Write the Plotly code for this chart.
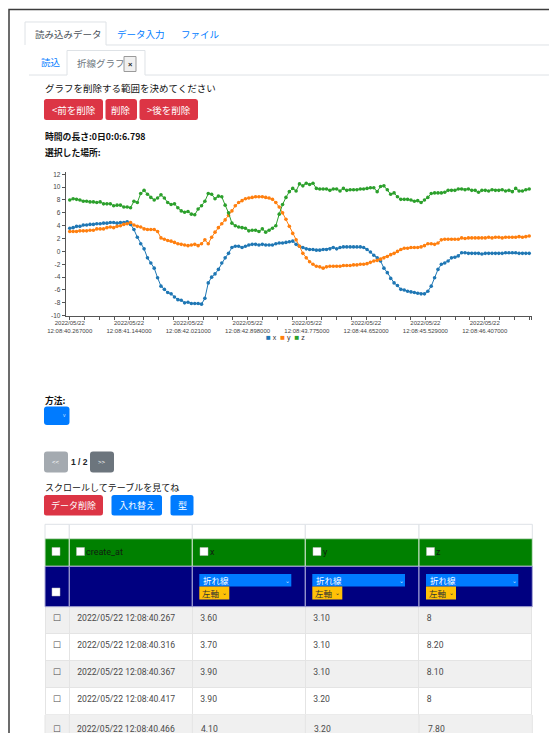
import plotly.graph_objects as go
import pandas as pd

W, H = 554, 733
JP = "Noto Sans CJK JP"
NUM = "Roboto"
AX = "Liberation Sans"

# ---------------- data ----------------
series_names = ["x", "y", "z"]
series_colors = ["#1f77b4", "#ff7f0e", "#2ca02c"]
start_time = "2022-05-22 12:08:40.267"
end_time = "2022-05-22 12:08:47.065"

x_vals = [3.6, 3.7, 3.9, 3.9, 4.1, 4.1, 4.2, 4.2, 4.3, 4.3,
          4.4, 4.4, 4.5, 4.5, 4.4, 4.5, 4.5, 4.6, 4.2, 3.4,
          2.2, 1.2, 0.4, -1.0, -1.8, -2.6, -4.1, -5.4, -5.9, -6.4,
          -6.6, -7.1, -7.5, -7.6, -8.0, -7.9, -8.1, -8.1, -8.1, -8.2,
          -7.3, -4.9, -4.0, -3.5, -2.8, -1.8, -1.0, -0.3, 0.6, 0.8,
          0.8, 0.6, 0.8, 1.0, 1.1, 1.1, 1.0, 1.1, 1.0, 1.0,
          1.0, 1.2, 1.3, 1.3, 1.4, 1.5, 1.6, 1.1, 0.8, 0.6,
          0.4, 0.3, 0.3, 0.2, 0.2, 0.3, 0.3, 0.4, 0.6, 0.4,
          0.6, 0.7, 0.7, 0.7, 0.7, 0.7, 0.7, 0.6, 0.3, -0.1,
          -0.6, -1.0, -1.5, -2.6, -3.3, -4.2, -4.9, -5.3, -5.9, -6.0,
          -6.2, -6.3, -6.4, -6.5, -6.6, -6.6, -6.2, -5.4, -4.1, -2.8,
          -2.0, -1.8, -1.5, -1.0, -0.9, -0.7, -0.2, -0.2, -0.3, -0.3,
          -0.3, -0.3, -0.4, -0.3, -0.3, -0.3, -0.3, -0.3, -0.3, -0.2,
          -0.2, -0.2, -0.2, -0.3, -0.3, -0.3, -0.3]
y_vals = [3.1, 3.1, 3.1, 3.2, 3.2, 3.2, 3.3, 3.3, 3.5, 3.5,
          3.5, 3.7, 3.8, 3.7, 3.9, 4.0, 4.2, 4.3, 4.5, 4.1,
          3.9, 3.8, 3.5, 3.4, 3.4, 3.4, 3.1, 2.1, 1.9, 1.7,
          1.6, 1.4, 1.2, 1.1, 1.0, 0.9, 1.0, 1.1, 0.9, 1.2,
          1.8, 1.2, 2.2, 3.0, 3.7, 4.3, 4.9, 5.6, 6.3, 7.1,
          7.6, 7.9, 8.2, 8.3, 8.4, 8.5, 8.5, 8.5, 8.4, 8.3,
          8.1, 7.6, 6.9, 6.0, 5.0, 3.9, 2.8, 1.8, 0.8, -0.3,
          -1.0, -1.6, -2.0, -2.3, -2.4, -2.6, -2.4, -2.3, -2.3, -2.3,
          -2.3, -2.2, -2.2, -2.2, -2.1, -2.1, -2.0, -2.0, -1.9, -1.7,
          -1.5, -1.4, -1.2, -1.0, -0.8, -0.5, -0.3, 0.0, 0.3, 0.5,
          0.5, 0.6, 0.6, 0.6, 0.7, 0.9, 1.2, 1.2, 1.1, 1.3,
          1.8, 1.9, 1.9, 1.9, 1.9, 1.9, 2.1, 2.0, 2.1, 2.1,
          2.1, 2.1, 2.1, 2.1, 2.2, 2.1, 2.2, 2.2, 2.1, 2.2,
          2.2, 2.2, 2.2, 2.3, 2.2, 2.3, 2.4]
z_vals = [8.0, 8.2, 8.1, 8.0, 7.8, 7.8, 7.7, 7.7, 7.6, 7.7,
          7.4, 7.4, 7.4, 7.1, 7.2, 7.2, 6.9, 6.9, 6.8, 7.8,
          7.6, 9.0, 9.5, 8.9, 8.4, 8.0, 8.3, 8.8, 8.3, 7.6,
          7.3, 7.4, 6.8, 6.3, 6.1, 6.2, 5.8, 5.7, 6.6, 7.1,
          7.8, 9.0, 8.9, 8.2, 8.6, 8.5, 7.2, 6.0, 4.4, 4.0,
          3.8, 3.7, 3.6, 3.2, 3.3, 3.3, 3.1, 3.5, 3.0, 3.3,
          3.6, 4.0, 5.8, 7.3, 8.4, 9.3, 9.8, 9.4, 10.5, 10.2,
          10.6, 10.4, 10.6, 9.8, 9.7, 9.7, 9.7, 9.5, 9.7, 9.7,
          9.4, 9.8, 9.5, 9.6, 9.6, 9.6, 9.7, 9.7, 9.8, 9.9,
          9.9, 9.3, 10.1, 10.2, 9.6, 8.9, 9.1, 8.5, 8.1, 8.1,
          8.1, 8.0, 7.8, 7.9, 7.6, 8.0, 8.4, 9.0, 9.1, 9.1,
          9.1, 9.2, 9.5, 9.5, 9.5, 9.7, 9.7, 9.6, 9.7, 9.5,
          9.5, 9.2, 9.5, 9.5, 9.4, 9.6, 9.5, 9.5, 9.6, 9.4,
          9.5, 9.3, 9.8, 9.4, 9.4, 9.6, 9.7]

x_tick_labels = [
    "2022/05/22<br>12:08:40.267000", "2022/05/22<br>12:08:41.144000",
    "2022/05/22<br>12:08:42.021000", "2022/05/22<br>12:08:42.898000",
    "2022/05/22<br>12:08:43.775000", "2022/05/22<br>12:08:44.652000",
    "2022/05/22<br>12:08:45.529000", "2022/05/22<br>12:08:46.407000"]
y_tick_vals = [-10, -8, -6, -4, -2, 0, 2, 4, 6, 8, 10, 12]

table_headers = ["create_at", "x", "y", "z"]
table_times = ["2022/05/22 12:08:40.267", "2022/05/22 12:08:40.316",
               "2022/05/22 12:08:40.367", "2022/05/22 12:08:40.417",
               "2022/05/22 12:08:40.466"]

# ---------------- helpers ----------------
shapes, annots = [], []


def P(x, y):
    return x / W, 1 - y / H


def rect(x0, y0, x1, y1, fill=None, line=None, lw=1):
    shapes.append(dict(type="rect", xref="paper", yref="paper",
                       x0=x0 / W, x1=x1 / W, y0=1 - y1 / H, y1=1 - y0 / H,
                       fillcolor=fill or "rgba(0,0,0,0)",
                       line=dict(color=line or "rgba(0,0,0,0)", width=lw if line else 0)))


def path(pts, color, lw=1, fill=None, close=False):
    d = ""
    for i, (x, y) in enumerate(pts):
        px, py = P(x, y)
        d += ("M" if i == 0 else "L") + f"{px:.5f},{py:.5f}"
    if close:
        d += "Z"
    shapes.append(dict(type="path", xref="paper", yref="paper", path=d,
                       fillcolor=fill or "rgba(0,0,0,0)",
                       line=dict(color=color, width=lw)))


def rrect(x0, y0, x1, y1, fill, r=2.5):
    def f(x, y):
        a, b = P(x, y)
        return f"{a:.5f},{b:.5f}"
    d = (f"M{f(x0 + r, y0)}L{f(x1 - r, y0)}Q{f(x1, y0)} {f(x1, y0 + r)}"
         f"L{f(x1, y1 - r)}Q{f(x1, y1)} {f(x1 - r, y1)}L{f(x0 + r, y1)}"
         f"Q{f(x0, y1)} {f(x0, y1 - r)}L{f(x0, y0 + r)}Q{f(x0, y0)} {f(x0 + r, y0)}Z")
    shapes.append(dict(type="path", xref="paper", yref="paper", path=d,
                       fillcolor=fill, line=dict(width=0)))


def text(x, y, s, size=9.5, color="#212529", family=JP, anchor="left"):
    px, py = P(x, y)
    annots.append(dict(xref="paper", yref="paper", x=px, y=py, text=s,
                       showarrow=False, xanchor=anchor, yanchor="middle",
                       borderpad=0,
                       font=dict(size=size, color=color, family=family)))


def fmt(v):
    return str(int(v)) if float(v).is_integer() else f"{v:.2f}"


RED, BLUE, BORDER = "#dc3545", "#007bff", "#dee2e6"
ROW_GRAY = "#f0f0f0"

# ---------------- page frame ----------------
path([(9, 733), (9, 9.5), (549, 9.5)], "#3c3c3c", 1.5)

# ---------------- tabs ----------------
path([(106, 45), (549, 45)], BORDER)
path([(25, 45), (25, 22), (106, 22), (106, 45)], BORDER)
text(34, 33.5, "読み込みデータ", 9.5, "#495057")
text(116, 33.5, "データ入力", 9.5, BLUE)
text(180, 33.5, "ファイル", 9.5, BLUE)

path([(29, 75), (67, 75)], BORDER)
path([(145, 75), (549, 75)], BORDER)
path([(67, 75), (67, 50.5), (145, 50.5), (145, 75)], BORDER)
text(40, 62, "読込", 9.5, BLUE)
text(76, 63, "折線グラフ", 9.5, "#6c757d")
rect(124, 56.5, 136, 71.5, "#f0f0f0", "#9a9a9a")
text(130, 64, "<b>×</b>", 7.5, "#222", AX, "center")

# ---------------- headings & buttons ----------------
text(44, 88, "グラフを削除する範囲を決めてください", 9.5, "#111")
rrect(44, 99, 103, 120, RED)
rrect(105.5, 99, 137, 120, RED)
rrect(139.5, 99, 198, 120, RED)
text(73.5, 109.5, "&lt;前を削除", 9.5, "white", JP, "center")
text(121.2, 109.5, "削除", 9.5, "white", JP, "center")
text(168.7, 109.5, "&gt;後を削除", 9.5, "white", JP, "center")
text(44, 136, "<b>時間の長さ:0日0:0:6.798</b>", 8.8, "#111")
text(44, 152.5, "<b>選択した場所:</b>", 8.8, "#111")

# ---------------- chart ----------------
t0, t1 = pd.Timestamp(start_time), pd.Timestamp(end_time)
times = pd.date_range(t0, t1, periods=len(x_vals))
fmt_t = lambda ts: ts.strftime("%Y-%m-%d %H:%M:%S.%f")
times_s = [fmt_t(t) for t in times]
spp = (t1 - t0) / (529 - 70)          # time per pixel
x_left = t0 - spp * (70 - 65.7)
x_right = t1 + spp * (531.7 - 529)

major = [pd.to_datetime(s.replace("<br>", " "), format="%Y/%m/%d %H:%M:%S.%f")
         for s in x_tick_labels]
step = (major[1] - major[0]) / 4
minor = []
for a in major[:-1]:
    minor += [a + step * k for k in (1, 2, 3)]
t = major[-1] + step
while t <= t1 + pd.Timedelta(milliseconds=5):
    minor.append(t)
    t += step
minor.append(x_right)

fig = go.Figure()
for name, vals, col in zip(series_names, [x_vals, y_vals, z_vals], series_colors):
    fig.add_trace(go.Scatter(x=times_s, y=vals, name=name, mode="lines+markers",
                             line=dict(color=col, width=1),
                             marker=dict(color=col, size=3.6),
                             showlegend=False))

leg = "&nbsp;&nbsp;".join(
    f'<span style="color:{c};font-size:8px">■</span> {n}'
    for n, c in zip(series_names, series_colors))
text(285, 338, leg, 7, "#333", AX, "center")

# ---------------- method / paging ----------------
text(44, 400, "<b>方法:</b>", 8.8, "#111")
rrect(44, 406.5, 69.5, 425, BLUE, 3)
text(64.5, 415, "v", 5, "#cfe2ff", AX, "center")

rrect(44, 451.5, 68, 472.5, "#a4aab0", 3)
text(56, 462, "&lt;&lt;", 6, "white", AX, "center")
text(70, 462, "<b>1 / 2</b>", 8.5, "#212529", AX)
rrect(90, 451.5, 114, 472.5, "#6c757d", 3)
text(102, 462, "&gt;&gt;", 6, "white", AX, "center")

text(44, 487.5, "スクロールしてテーブルを見てね", 9, "#111")
rrect(44, 495, 103, 515.5, RED)
rrect(111.5, 495, 162, 515.5, BLUE)
rrect(170.5, 495, 193.5, 515.5, BLUE)
text(73.5, 505.2, "データ削除", 9, "white", JP, "center")
text(136.7, 505.2, "入れ替え", 9, "white", JP, "center")
text(182, 505.2, "型", 9, "white", JP, "center")

# ---------------- table header area ----------------
cx = [45, 69.3, 192.3, 305.3, 419, 532.3]
for a, b in zip(cx[:-1], cx[1:]):
    rect(a, 524.3, b, 538.7, "white", BORDER)
    rect(a, 538.7, b, 566.3, "#008000", "#cfe3cf")
    rect(a, 566.3, b, 606.7, "#000080", "#a9a9d6")

cb_x = [52, 76.5, 200, 313, 426.5]
for i, x in enumerate(cb_x):
    rect(x, 547.5, x + 8, 555.5, "white", "#bbbbbb", 0.5)
    if i > 0:
        text(x + 8.5, 552, table_headers[i - 1], 9, "#102010", NUM)
rect(52, 588, 60, 596, "white", "#bbbbbb", 0.5)

for a, b in zip(cx[2:-1], cx[3:]):
    x0 = a + 7
    rect(x0, 574, b - 14, 586.5, BLUE)
    text(x0 + 3, 580.2, "折れ線", 8.5, "white")
    text(b - 18, 580.5, "⌄", 6, "#cfe2ff", AX, "center")
    rect(x0, 586.5, x0 + 30, 599.5, "#ffc107")
    text(x0 + 2, 593, "左軸", 8.5, "#333")
    text(x0 + 25.5, 592.5, "⌄", 6, "#333", AX, "center")

# ---------------- data table (first rows) ----------------
n_rows = 4


def row(i):
    return ["☐", table_times[i], fmt(x_vals[i]), fmt(y_vals[i]), fmt(z_vals[i])]


rows = [row(i) for i in range(n_rows)]
cell_font = dict(family=NUM, size=8.6, color="#4a4a4a")
aligns = ["center", "left", "left", "left", "left"]
body_fill = [[ROW_GRAY if r % 2 == 0 else "white" for r in range(1, n_rows)]] * 5
fig.add_trace(go.Table(
    domain=dict(x=[cx[0] / W, cx[-1] / W], y=[1 - 715 / H, 1 - 606.7 / H]),
    columnwidth=[b - a for a, b in zip(cx[:-1], cx[1:])],
    header=dict(values=rows[0], height=27, align=aligns,
                fill=dict(color=ROW_GRAY),
                line=dict(color="#e4e4e4", width=1), font=cell_font),
    cells=dict(values=[[r[c] for r in rows[1:]] for c in range(5)],
               height=27, align=aligns,
               fill=dict(color=body_fill),
               line=dict(color="#e4e4e4", width=1),
               font=cell_font)))

# partially visible next row at the bottom edge
k = n_rows
rect(cx[0], 715, cx[-1], 745, ROW_GRAY)
for xb in cx:
    path([(xb, 715), (xb, 745)], "#e4e4e4")
text(57, 728.5, "☐", 8.6, "#4a4a4a", "DejaVu Sans", "center")
text(76, 728.5, table_times[k], 8.6, "#4a4a4a", NUM)
for xs, vals in zip(cx[2:5], [x_vals, y_vals, z_vals]):
    text(xs + 8, 728.5, fmt(vals[k]), 8.6, "#4a4a4a", NUM)

fig.update_layout(
    width=W, height=H, autosize=False,
    margin=dict(l=0, r=0, t=0, b=0, autoexpand=False),
    paper_bgcolor="white", plot_bgcolor="white",
    shapes=shapes, annotations=annots,
    xaxis=dict(type="date", domain=[65.7 / W, 531.7 / W], automargin=False,
               range=[fmt_t(x_left), fmt_t(x_right)],
               tickmode="array", tickvals=[fmt_t(m) for m in major],
               ticktext=x_tick_labels, ticks="outside", ticklen=3,
               tickcolor="#555", tickwidth=1, ticklabelstandoff=-2,
               showline=True, linecolor="#555", linewidth=1,
               showgrid=False, zeroline=False,
               tickfont=dict(family=AX, size=6, color="#444"),
               minor=dict(tickmode="array", tickvals=[fmt_t(m) for m in minor],
                          ticks="outside", ticklen=3, tickcolor="#555",
                          showgrid=False)),
    yaxis=dict(domain=[1 - 315.7 / H, 1 - 171.7 / H], range=[-10, 12.4],
               automargin=False,
               tickmode="array", tickvals=y_tick_vals,
               ticktext=[str(v) for v in y_tick_vals],
               ticks="outside", ticklen=3, tickcolor="#555",
               showline=True, linecolor="#555", linewidth=1,
               showgrid=False, zeroline=False,
               tickfont=dict(family=AX, size=6.5, color="#444")),
    hovermode=False,
)

fig.write_html("out.html", config={"displayModeBar": False},
               post_script="document.body.style.margin='0';document.body.style.overflow='hidden';")
